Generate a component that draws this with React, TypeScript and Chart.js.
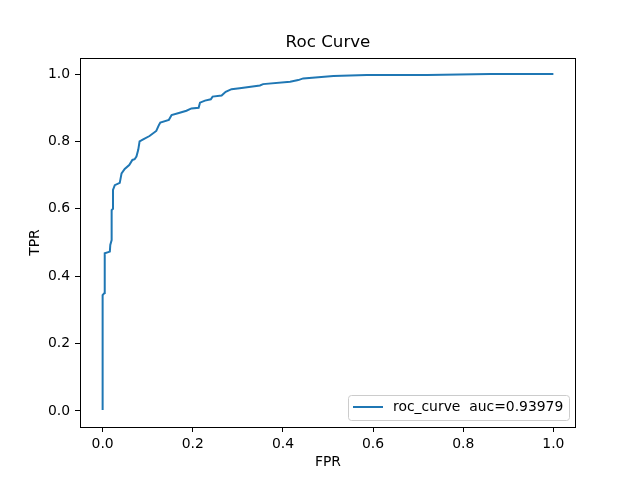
import { useEffect, useRef } from "react";
import { Chart, registerables } from "chart.js";

Chart.register(...registerables);

const chartTitle = "Roc Curve";
const xLabel = "FPR";
const yLabel = "TPR";
const seriesLabel = "roc_curve  auc=0.93979";

const fpr = [
  0, 0, 0.004, 0.004, 0.005, 0.005, 0.016, 0.017, 0.02, 0.02, 0.023, 0.023,
  0.027, 0.038, 0.042, 0.049, 0.059, 0.066, 0.071, 0.075, 0.079, 0.082, 0.09,
  0.104, 0.119, 0.125, 0.128, 0.147, 0.153, 0.171, 0.186, 0.197, 0.213, 0.216,
  0.227, 0.24, 0.244, 0.264, 0.273, 0.286, 0.304, 0.349, 0.356, 0.416, 0.434,
  0.445, 0.512, 0.586, 0.72, 0.86, 1.0,
];
const tpr = [
  0.003, 0.344, 0.35, 0.404, 0.41, 0.468, 0.473, 0.493, 0.507, 0.596, 0.6,
  0.656, 0.67, 0.677, 0.705, 0.718, 0.73, 0.745, 0.747, 0.755, 0.775, 0.8,
  0.806, 0.816, 0.831, 0.849, 0.856, 0.864, 0.878, 0.885, 0.891, 0.898, 0.9,
  0.915, 0.921, 0.925, 0.933, 0.936, 0.947, 0.955, 0.958, 0.966, 0.97, 0.977,
  0.982, 0.987, 0.994, 0.997, 0.997, 1.0, 1.0,
];
const xTicks = [0, 0.2, 0.4, 0.6, 0.8, 1.0];
const yTicks = [0, 0.2, 0.4, 0.6, 0.8, 1.0];

const FONT = "DejaVu Sans";
const LINE_COLOR = "#1f77b4";

const decorPlugin = {
  id: "decor",
  afterDraw(chart: any) {
    const ctx = chart.ctx;
    const a = chart.chartArea;
    ctx.save();
    // frame
    ctx.strokeStyle = "#000";
    ctx.lineWidth = 1;
    ctx.strokeRect(a.left + 0.5, a.top + 0.5, a.right - a.left - 1, a.bottom - a.top);
    // title
    ctx.fillStyle = "#000";
    ctx.textAlign = "center";
    ctx.textBaseline = "middle";
    ctx.font = `16.7px "${FONT}"`;
    const cx = (a.left + a.right) / 2;
    ctx.fillText(chartTitle, cx, 43);
    // axis labels
    ctx.font = `13.9px "${FONT}"`;
    ctx.fillText(xLabel, cx, 462);
    ctx.save();
    ctx.translate(35, (a.top + a.bottom) / 2);
    ctx.rotate(-Math.PI / 2);
    ctx.fillText(yLabel, 0, 0);
    ctx.restore();
    // legend
    const lx = 348.5, ly = 395.5, lw = 221, lh = 25, r = 3;
    ctx.beginPath();
    ctx.moveTo(lx + r, ly);
    ctx.lineTo(lx + lw - r, ly);
    ctx.quadraticCurveTo(lx + lw, ly, lx + lw, ly + r);
    ctx.lineTo(lx + lw, ly + lh - r);
    ctx.quadraticCurveTo(lx + lw, ly + lh, lx + lw - r, ly + lh);
    ctx.lineTo(lx + r, ly + lh);
    ctx.quadraticCurveTo(lx, ly + lh, lx, ly + lh - r);
    ctx.lineTo(lx, ly + r);
    ctx.quadraticCurveTo(lx, ly, lx + r, ly);
    ctx.closePath();
    ctx.fillStyle = "rgba(255,255,255,0.8)";
    ctx.fill();
    ctx.strokeStyle = "#cccccc";
    ctx.lineWidth = 1;
    ctx.stroke();
    ctx.strokeStyle = LINE_COLOR;
    ctx.lineWidth = 2;
    ctx.beginPath();
    ctx.moveTo(353, 407);
    ctx.lineTo(383, 407);
    ctx.stroke();
    ctx.fillStyle = "#000";
    ctx.textAlign = "left";
    ctx.textBaseline = "middle";
    ctx.font = `13.9px "${FONT}"`;
    ctx.fillText(seriesLabel, 393, 407);
    ctx.restore();
  },
};

export default function App() {
  const ref = useRef<HTMLCanvasElement | null>(null);
  useEffect(() => {
    if (!ref.current) return;
    Chart.defaults.font.family = FONT;
    const data = fpr.map((x, i) => ({ x, y: tpr[i] }));
    const chart = new Chart(ref.current, {
      type: "scatter",
      data: {
        datasets: [
          {
            label: seriesLabel,
            data,
            showLine: true,
            borderColor: LINE_COLOR,
            backgroundColor: LINE_COLOR,
            borderWidth: 2,
            pointRadius: 0,
            tension: 0,
          },
        ],
      },
      options: {
        responsive: false,
        animation: false,
        layout: { padding: { left: 0, top: 58, right: 64, bottom: 0 } },
        plugins: {
          legend: { display: false },
          title: { display: false },
          tooltip: { enabled: false },
        },
        scales: {
          x: {
            type: "linear",
            min: -0.0502,
            max: 1.0502,
            afterBuildTicks: (s: any) => {
              s.ticks = xTicks.map((v) => ({ value: v }));
            },
            afterFit: (s: any) => {
              s.height = 53;
            },
            ticks: {
              callback: (v: any) => Number(v).toFixed(1),
              color: "#000",
              font: { size: 13.9, family: FONT },
              padding: 4,
              maxRotation: 0,
              autoSkip: false,
            },
            grid: { drawOnChartArea: false, drawTicks: true, tickLength: 5, color: "#000" },
            border: { display: false },
          },
          y: {
            type: "linear",
            min: -0.0475,
            max: 1.0475,
            afterBuildTicks: (s: any) => {
              s.ticks = yTicks.map((v) => ({ value: v }));
            },
            afterFit: (s: any) => {
              s.width = 80;
            },
            ticks: {
              callback: (v: any) => Number(v).toFixed(1),
              color: "#000",
              font: { size: 13.9, family: FONT },
              padding: 5,
              autoSkip: false,
            },
            grid: { drawOnChartArea: false, drawTicks: true, tickLength: 5, color: "#000" },
            border: { display: false },
          },
        },
      },
      plugins: [decorPlugin],
    });
    return () => chart.destroy();
  }, []);
  return (
    <div style={{ position: "fixed", left: 0, top: 0, width: 640, height: 480, background: "#fff" }}>
      <canvas ref={ref} width={640} height={480} />
    </div>
  );
}
